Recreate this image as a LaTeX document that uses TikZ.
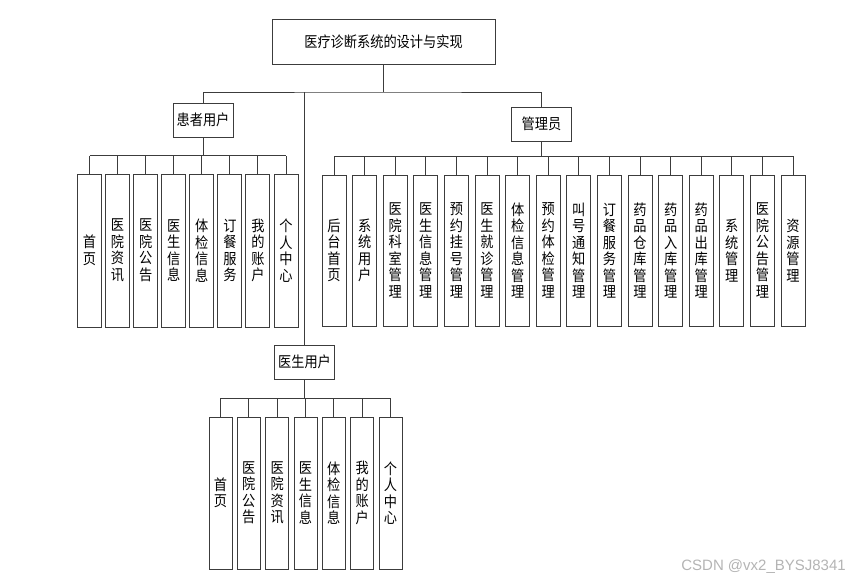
\documentclass[tikz,border=0pt]{standalone}
\usepackage{fontspec}
\newfontfamily\cjk[FakeStretch=0.88]{Noto Sans CJK SC}
\newfontfamily\marksans{Liberation Sans}
\usetikzlibrary{positioning}
\definecolor{treeline}{HTML}{3C3C3C}
\definecolor{marktext}{HTML}{B4B4B4}

\begin{document}
\begin{tikzpicture}[x=1pt,y=-1pt,
 topbox/.style={draw=treeline,line width=0.9pt,font=\cjk\fontsize{15}{16.5}\selectfont,minimum width=223pt,minimum height=45pt,inner sep=0pt},
 rolebox/.style={draw=treeline,line width=0.9pt,font=\cjk\fontsize{15}{16.5}\selectfont,minimum width=60pt,minimum height=34pt,inner sep=0pt},
 leafbox/.style={draw=treeline,line width=0.9pt,font=\cjk\fontsize{15}{16.5}\selectfont,align=center,minimum width=24pt,minimum height=152pt,inner sep=0pt},
 treelink/.style={draw=treeline,line width=0.9pt}
]
\useasboundingbox (0,0) rectangle (855,584);
\node[topbox] (root) at (383.5,41.5) {医疗诊断系统的设计与实现};
\node[rolebox] (patient) at (203,120) {患者用户};
\node[rolebox] (admin) at (541.5,124) {管理员};
\node[rolebox] (doctor) at (304.5,362) {医生用户};
\coordinate (rootbar) at (383.5,92);
\coordinate (pbar) at (203,155.5);
\coordinate (abar) at (541.5,156);
\coordinate (dbar) at (304.5,398);
% patient leaves
\foreach \lbl [count=\i] in {{首\\页},{医\\院\\资\\讯},{医\\院\\公\\告},{医\\生\\信\\息},{体\\检\\信\\息},{订\\餐\\服\\务},{我\\的\\账\\户},{个\\人\\中\\心}}
  \node[leafbox,minimum height=153pt] (p\i) at ({89.5+(\i-1)*28.07},250.5) {\lbl};
% admin leaves
\foreach \lbl [count=\i] in {{后\\台\\首\\页},{系\\统\\用\\户},{医\\院\\科\\室\\管\\理},{医\\生\\信\\息\\管\\理},{预\\约\\挂\\号\\管\\理},{医\\生\\就\\诊\\管\\理},{体\\检\\信\\息\\管\\理},{预\\约\\体\\检\\管\\理},{叫\\号\\通\\知\\管\\理},{订\\餐\\服\\务\\管\\理},{药\\品\\仓\\库\\管\\理},{药\\品\\入\\库\\管\\理},{药\\品\\出\\库\\管\\理},{系\\统\\管\\理},{医\\院\\公\\告\\管\\理},{资\\源\\管\\理}}
  \node[leafbox,minimum height=151pt] (a\i) at ({334+(\i-1)*30.6},250.5) {\lbl};
% doctor leaves
\foreach \lbl [count=\i] in {{首\\页},{医\\院\\公\\告},{医\\院\\资\\讯},{医\\生\\信\\息},{体\\检\\信\\息},{我\\的\\账\\户},{个\\人\\中\\心}}
  \node[leafbox,minimum width=23pt] (d\i) at ({220.5+(\i-1)*28.33},493) {\lbl};
% tree links
\draw[treelink] (root.south) -- (rootbar);
\draw[treelink] (patient.north) |- (rootbar) -| (admin.north);
\draw[treelink] (rootbar -| doctor.north) -- (doctor.north);
\draw[treelink] (patient.south) -- (pbar);
\draw[treelink] (p1.north |- pbar) -- (p8.north |- pbar);
\foreach \i in {1,...,8} \draw[treelink] (p\i.north) -- (p\i.north |- pbar);
\draw[treelink] (admin.south) -- (abar);
\draw[treelink] (a1.north |- abar) -- (a16.north |- abar);
\foreach \i in {1,...,16} \draw[treelink] (a\i.north) -- (a\i.north |- abar);
\draw[treelink] (doctor.south) -- (dbar);
\draw[treelink] (d1.north |- dbar) -- (d7.north |- dbar);
\foreach \i in {1,...,7} \draw[treelink] (d\i.north) -- (d\i.north |- dbar);
\node[font=\marksans\fontsize{15}{15}\selectfont,text=marktext,anchor=east,inner sep=0pt] (mark) at (846,567) {CSDN @vx2\_BYSJ8341};
\end{tikzpicture}
\end{document}
